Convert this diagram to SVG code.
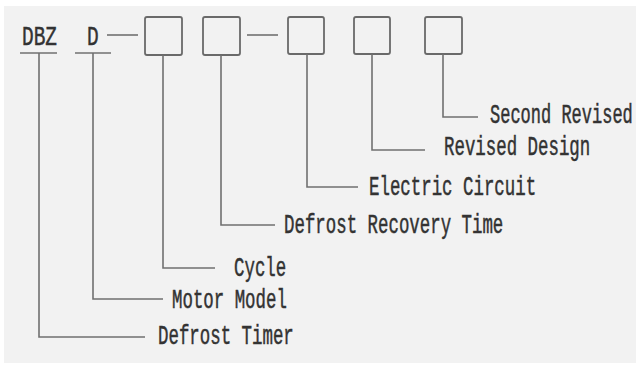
<svg xmlns="http://www.w3.org/2000/svg" width="638" height="365" viewBox="0 0 638 365">
<style>
.bg{fill:#f2f2f2}
.box{fill:#f2f2f2;stroke:#6a6a6a;stroke-width:1.8}
.ln{fill:none;stroke:#707070;stroke-width:1.6}
.t{font-family:"Liberation Mono","DejaVu Sans Mono",monospace;font-size:27px;fill:#333;stroke:#333;stroke-width:0.5}
</style>
<rect x="0" y="0" width="638" height="365" fill="#ffffff"/>
<rect class="bg" x="4" y="6" width="632" height="357"/>
<g id="code">
<text id="code-dbz" class="t" transform="translate(22,45) scale(0.72,1)">DBZ</text>
<text id="code-d" class="t" transform="translate(87,45) scale(0.72,1)">D</text>
</g>
<g id="box1"><rect class="box" x="145" y="17" width="37" height="38" rx="2"/></g>
<g id="box2"><rect class="box" x="203" y="17" width="37" height="38" rx="2"/></g>
<g id="box3"><rect class="box" x="288" y="17" width="36" height="37" rx="2"/></g>
<g id="box4"><rect class="box" x="354" y="17" width="36" height="37" rx="2"/></g>
<g id="box5"><rect class="box" x="425" y="17" width="37" height="37" rx="2"/></g>
<g id="connectors">
<path class="ln" d="M20 53H57"/>
<path class="ln" d="M75 53H111"/>
<path class="ln" d="M107 35H138"/>
<path class="ln" d="M247 35H278"/>
<path class="ln" d="M39 53V337H145"/>
<path class="ln" d="M93 53V299H163"/>
<path class="ln" d="M163 55V268H215"/>
<path class="ln" d="M221 55V225H275"/>
<path class="ln" d="M307 54V187H358"/>
<path class="ln" d="M372 54V150H425"/>
<path class="ln" d="M443 54V117H478"/>
</g>
<g id="label-second-revised"><text class="t" transform="translate(490,123) scale(0.63,1)">Second Revised</text></g>
<g id="label-revised-design"><text class="t" transform="translate(444,155) scale(0.645,1)">Revised Design</text></g>
<g id="label-electric-circuit"><text class="t" transform="translate(369,195) scale(0.645,1)">Electric Circuit</text></g>
<g id="label-defrost-recovery-time"><text class="t" transform="translate(284,233) scale(0.645,1)">Defrost Recovery Time</text></g>
<g id="label-cycle"><text class="t" transform="translate(234,276) scale(0.645,1)">Cycle</text></g>
<g id="label-motor-model"><text class="t" transform="translate(172,308) scale(0.645,1)">Motor Model</text></g>
<g id="label-defrost-timer"><text class="t" transform="translate(158,344) scale(0.645,1)">Defrost Timer</text></g>
</svg>
